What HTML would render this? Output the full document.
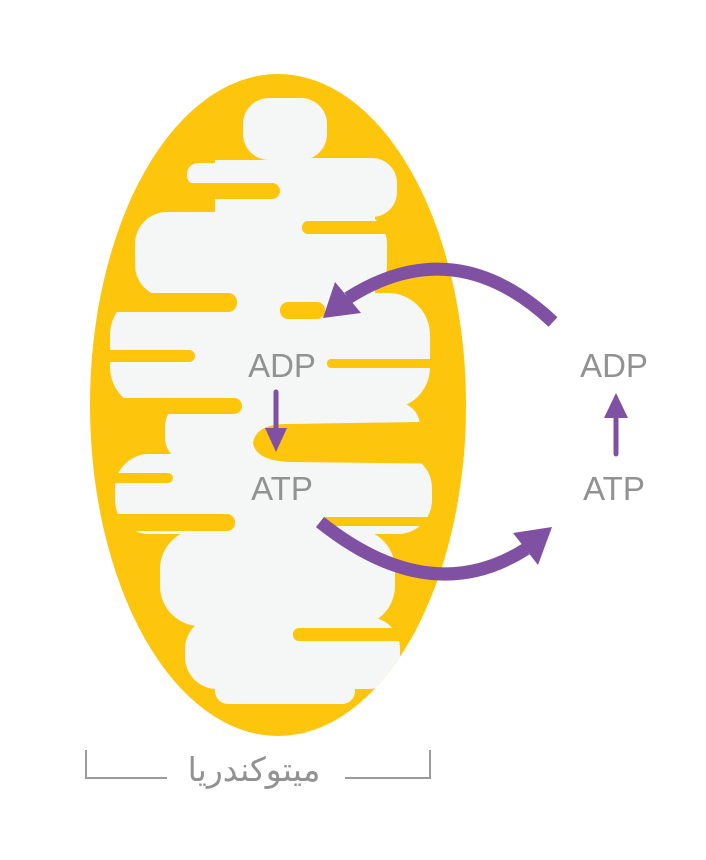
<!DOCTYPE html>
<html><head><meta charset="utf-8"><style>
html,body{margin:0;padding:0;background:#fff;width:706px;height:860px;overflow:hidden}
svg{display:block}
text{font-family:"Liberation Sans","DejaVu Sans",sans-serif;fill:#929292}
</style></head><body>
<svg width="706" height="860" viewBox="0 0 706 860" xmlns="http://www.w3.org/2000/svg">
<defs><clipPath id="c"><ellipse cx="278" cy="405" rx="188" ry="331"/></clipPath></defs>
<ellipse cx="278" cy="405" rx="188" ry="331" fill="#FDC50C"/>
<g clip-path="url(#c)">
<g fill="#F5F6F6">
<rect x="243" y="98" width="84" height="62" rx="26"/>
<rect x="187" y="163" width="85" height="23" rx="11"/>
<rect x="262" y="158" width="135" height="59" rx="25"/>
<rect x="135" y="212" width="252" height="85" rx="32"/>
<rect x="110" y="293" width="320" height="116" rx="42"/>
<rect x="165" y="402" width="255" height="60" rx="24"/>
<rect x="115" y="454" width="317" height="80" rx="34"/>
<rect x="160" y="529" width="235" height="97" rx="40"/>
<rect x="185" y="617" width="215" height="72" rx="32"/>
<rect x="215" y="676" width="140" height="28" rx="13"/>
<rect x="215" y="160" width="160" height="525"/>
</g>
<g fill="#FDC50C">
<rect x="60" y="293" width="177" height="19" rx="9"/>
<rect x="302" y="221" width="180" height="13" rx="6"/>
<rect x="60" y="350" width="135" height="12" rx="6"/>
<rect x="327" y="359" width="150" height="9" rx="4"/>
<rect x="60" y="398" width="182" height="16" rx="8"/>
<path d="M253,443 Q256,423 290,424 L480,421 L480,464 L290,462 Q256,461 253,443Z"/>
<rect x="323" y="517" width="150" height="9" rx="4"/>
<rect x="60" y="514" width="175" height="17" rx="8"/>
<rect x="60" y="473" width="113" height="10" rx="5"/>
<rect x="293" y="628" width="180" height="13" rx="6"/>
<rect x="280" y="302" width="45" height="17" rx="8"/>
<rect x="60" y="183" width="220" height="16" rx="8"/>
</g>
</g>
<g fill="none" stroke="#8050A2" stroke-width="13">
<path d="M553,322 Q455,230 348,298"/>
<path d="M320,522 Q430,610 526,549"/>
</g>
<g fill="#8050A2">
<polygon points="323,318 335,282 361,313"/>
<polygon points="552,527 513,533 538,565"/>
<polygon points="265,428 287,428 276,452"/>
<polygon points="604,418 628,418 616,393"/>
</g>
<g stroke="#8050A2" stroke-width="5" stroke-linecap="round">
<line x1="276" y1="392" x2="276" y2="430"/>
<line x1="616" y1="416" x2="616" y2="454"/>
</g>
<text x="282" y="377" font-size="33" text-anchor="middle">ADP</text>
<text x="282" y="500" font-size="33" text-anchor="middle">ATP</text>
<text x="614" y="377" font-size="33" text-anchor="middle">ADP</text>
<text x="614" y="500" font-size="33" text-anchor="middle">ATP</text>
<g stroke="#9a9a9a" stroke-width="2" fill="none">
<polyline points="86,750 86,778 167,778"/>
<polyline points="345,778 430,778 430,750"/>
</g>
<text x="254" y="781" font-size="33" text-anchor="middle" style="font-family:'DejaVu Sans','Noto Sans CJK SC',sans-serif">میتوکندریا</text>
</svg>
</body></html>
